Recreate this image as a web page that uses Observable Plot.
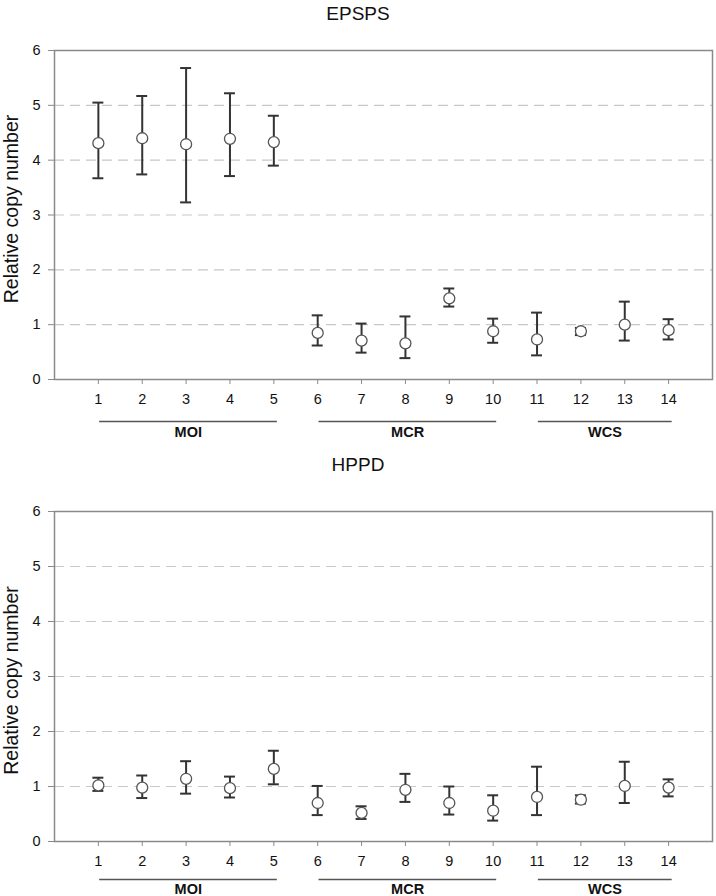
<!DOCTYPE html>
<html>
<head>
<meta charset="utf-8">
<script src="https://cdn.jsdelivr.net/npm/d3@7"></script>
<script src="https://cdn.jsdelivr.net/npm/@observablehq/plot@0.6"></script>
<style>
  html, body { margin: 0; padding: 0; background: #fff; }
  body { width: 716px; height: 896px; overflow: hidden; font-family: "Liberation Sans", Arial, sans-serif; }
  .title { text-align: center; font-size: 19px; color: #111; }
  #t1 { height: 30px; line-height: 28px; }
  #t2 { height: 34px; line-height: 34px; }
  svg { display: block; }
  .panel svg text { font-family: "Liberation Sans", Arial, sans-serif; }
  .panel svg g[aria-label$="tick label"] text { font-size: 14.5px; }
  .panel svg g[aria-label="text"] text { font-size: 19.5px; }
  .panel svg g[aria-label="text"][font-weight="bold"] text { font-size: 14.5px; }
</style>
</head>
<body>
<div id="t1" class="title">EPSPS</div>
<div id="p1" class="panel"></div>
<div id="t2" class="title">HPPD</div>
<div id="p2" class="panel"></div>
<script>
const samples = [1, 2, 3, 4, 5, 6, 7, 8, 9, 10, 11, 12, 13, 14];
const yTicks = [0, 1, 2, 3, 4, 5, 6];
const groupNames = ["MOI", "MCR", "WCS"];
const groupFirst = [1, 6, 11];
const groupLast = [5, 10, 14];

const epspsMean = [4.31, 4.40, 4.29, 4.39, 4.33, 0.85, 0.71, 0.66, 1.48, 0.88, 0.73, 0.88, 1.00, 0.90];
const epspsLow  = [3.67, 3.74, 3.23, 3.71, 3.90, 0.62, 0.49, 0.39, 1.33, 0.67, 0.44, 0.81, 0.71, 0.73];
const epspsHigh = [5.05, 5.17, 5.68, 5.22, 4.81, 1.17, 1.02, 1.15, 1.66, 1.11, 1.22, 0.94, 1.42, 1.10];

const hppdMean = [1.02, 0.98, 1.14, 0.97, 1.32, 0.70, 0.52, 0.94, 0.70, 0.56, 0.81, 0.76, 1.01, 0.98];
const hppdLow  = [0.92, 0.79, 0.87, 0.80, 1.04, 0.48, 0.41, 0.72, 0.49, 0.38, 0.48, 0.69, 0.70, 0.82];
const hppdHigh = [1.16, 1.20, 1.46, 1.18, 1.65, 1.01, 0.64, 1.23, 1.00, 0.84, 1.36, 0.84, 1.45, 1.13];

const groups = groupNames.map((name, i) => ({name, first: groupFirst[i], last: groupLast[i]}));

function panel(mean, low, high, cfg) {
  const data = samples.map((s, i) => ({x: s, m: mean[i], lo: low[i], hi: high[i]}));
  const cap = 0.125;
  return Plot.plot({
    width: 716,
    height: cfg.height,
    marginLeft: 54,
    marginRight: 4,
    marginTop: cfg.marginTop,
    marginBottom: cfg.marginBottom,
    style: {fontFamily: "'Liberation Sans', Arial, sans-serif", fontSize: "14.5px", color: "#111", background: "#fff"},
    x: {domain: [0, 15]},
    y: {domain: [0, 6]},
    marks: [
      Plot.ruleY(yTicks.filter(t => t > 0 && t < 6), {stroke: "#c8c8c8", strokeWidth: 1.2, strokeDasharray: "10,6"}),
      Plot.frame({stroke: "#8a8a8a", strokeWidth: 1.5}),
      Plot.axisY({ticks: yTicks, tickFormat: d3.format("d"), tickSize: 6, tickPadding: 8, stroke: "#8a8a8a", label: null, fontSize: 14.5}),
      Plot.axisX({ticks: samples, tickFormat: d3.format("d"), tickSize: 5, tickPadding: 9, stroke: "#8a8a8a", label: null, fontSize: 14.5}),
      Plot.text(["Relative copy number"], {frameAnchor: "left", textAnchor: "middle", rotate: -90, dx: -43, dy: cfg.labelShift, fontSize: 19.5, fill: "#111"}),
      Plot.ruleX(data, {x: "x", y1: "lo", y2: "hi", stroke: "#333", strokeWidth: 2}),
      Plot.ruleY(data, {y: "hi", x1: d => d.x - cap, x2: d => d.x + cap, stroke: "#333", strokeWidth: 2}),
      Plot.ruleY(data, {y: "lo", x1: d => d.x - cap, x2: d => d.x + cap, stroke: "#333", strokeWidth: 2}),
      Plot.dot(data, {x: "x", y: "m", r: 5.5, fill: "#fff", stroke: "#555", strokeWidth: 1.3}),
      Plot.ruleY(groups, {y: () => 0, x1: d => d.first + 0.03, x2: d => d.last + 0.08, dy: cfg.lineDy, stroke: "#555", strokeWidth: 1.5}),
      Plot.text(groups, {x: d => (d.first + d.last) / 2 + 0.05, y: () => 0, text: "name", dy: cfg.labelDy, fontWeight: "bold", fontSize: 14.5, fill: "#111"})
    ]
  });
}

document.getElementById("p1").append(panel(epspsMean, epspsLow, epspsHigh, {height: 418, marginTop: 20, marginBottom: 69, lineDy: 42, labelDy: 53, labelShift: -6}));
document.getElementById("p2").append(panel(hppdMean, hppdLow, hppdHigh, {height: 414, marginTop: 29, marginBottom: 55, lineDy: 38, labelDy: 48, labelShift: 4}));
</script>
</body>
</html>
